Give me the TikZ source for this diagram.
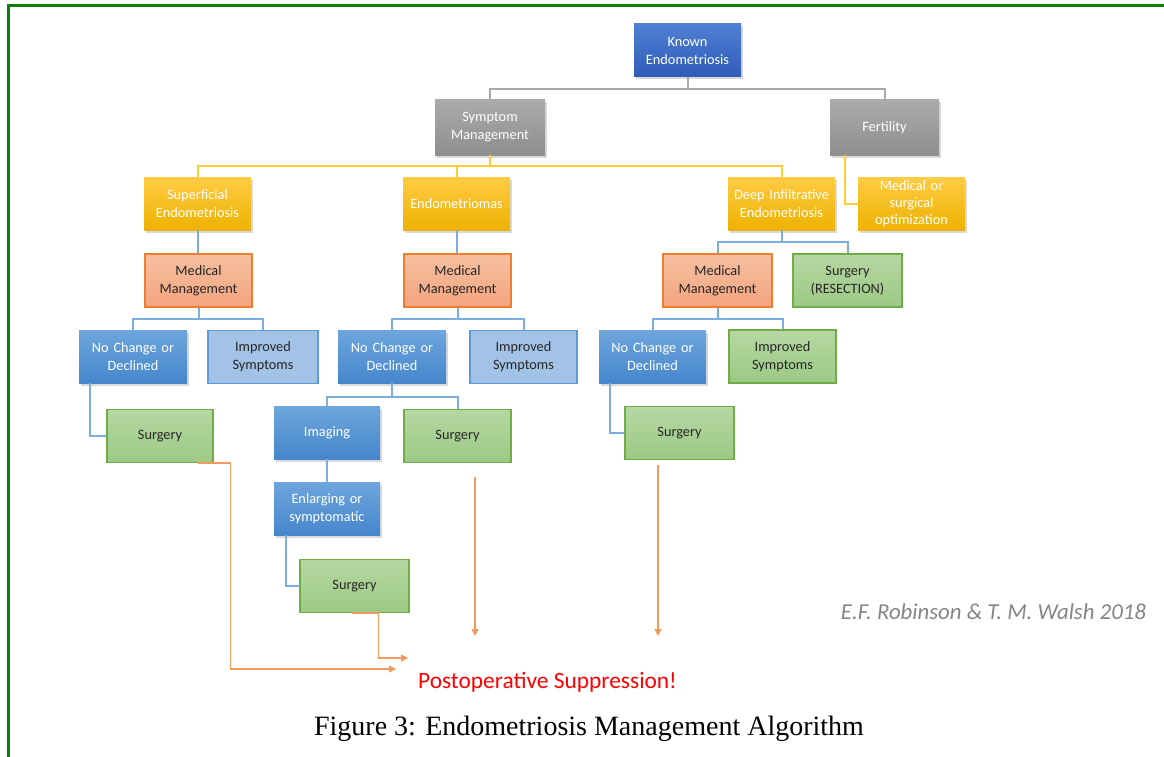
\documentclass[tikz,border=0pt]{standalone}
\usepackage{fontspec}
\setmainfont{Carlito}
\newfontfamily\capfont{Liberation Serif}
\usetikzlibrary{arrows.meta,shadows}
\definecolor{kbT}{HTML}{4F7FD4}
\definecolor{kbB}{HTML}{2F5CB8}
\definecolor{grT}{HTML}{ABABAB}
\definecolor{grB}{HTML}{8E8E8E}
\definecolor{yeT}{HTML}{FFCB45}
\definecolor{yeB}{HTML}{EDB200}
\definecolor{buT}{HTML}{6EA6DD}
\definecolor{buB}{HTML}{4586CB}
\definecolor{mmT}{HTML}{F6BFA0}
\definecolor{mmB}{HTML}{F3A47E}
\definecolor{mmD}{HTML}{ED7D31}
\definecolor{impF}{HTML}{A2C2E6}
\definecolor{impD}{HTML}{5B9BD5}
\definecolor{gnT}{HTML}{B6D7A3}
\definecolor{gnB}{HTML}{9CC985}
\definecolor{gnD}{HTML}{70AD47}
\definecolor{txt}{HTML}{262626}
\definecolor{lnG}{HTML}{A8A8A8}
\definecolor{lnY}{HTML}{FFCC33}
\definecolor{lnB}{HTML}{7AAEE0}
\definecolor{lnO}{HTML}{F29B5C}
\definecolor{frame}{HTML}{0A800A}
\definecolor{credit}{HTML}{858585}
\begin{document}
\begin{tikzpicture}[x=1pt,y=-1pt,
  box/.style={rectangle, minimum width=107pt, minimum height=53pt, text width=105pt,
    align=center, inner sep=0pt, font=\fontsize{14.3}{18}\selectfont},
  dark/.style={box, text=white, drop shadow={opacity=0.3, shadow xshift=1.5pt, shadow yshift=-2.5pt}},
  known/.style={dark, top color=kbT, bottom color=kbB},
  grey/.style={dark, top color=grT, bottom color=grB},
  yel/.style={dark, top color=yeT, bottom color=yeB},
  blu/.style={dark, top color=buT, bottom color=buB},
  mm/.style={box, draw=mmD, line width=1.4pt, top color=mmT, bottom color=mmB, text=txt},
  imp/.style={box, draw=impD, line width=1.2pt, fill=impF, text=txt},
  grn/.style={box, draw=gnD, line width=1.2pt, top color=gnT, bottom color=gnB, text=txt},
  gl/.style={draw=lnG, line width=2pt},
  yl/.style={draw=lnY, line width=2pt},
  bl/.style={draw=lnB, line width=2pt},
  ol/.style={draw=lnO, line width=1.6pt, -{Triangle[length=7pt,width=7pt]}}
]
\useasboundingbox (0,0) rectangle (1164,757);
\draw[frame, line width=3pt] (1164,6) -- (8,6) -- (8,757);

% nodes
\node[known] (known) at (687.5,50.5) {Known\\Endometriosis};
\node[grey, minimum width=110pt, minimum height=55pt] (symp) at (490,127.5) {Symptom\\Management};
\node[grey, minimum width=109pt, minimum height=55pt] (fert) at (884.5,127.5) {Fertility};
\node[yel] (sup) at (197.5,203.5) {Superficial\\Endometriosis};
\node[yel] (endo) at (456.5,203.5) {Endometriomas};
\node[yel] (deep) at (781.5,203.5) {Deep Infiltrative\\Endometriosis};
\node[yel, font=\fontsize{14.3}{17}\selectfont] (optim) at (911.5,203.5) {Medical or\\surgical\\optimization};
\node[mm] (mm1) at (198.5,280.5) {Medical\\Management};
\node[mm] (mm2) at (457.5,280.5) {Medical\\Management};
\node[mm, minimum width=109pt] (mm3) at (717.5,280.5) {Medical\\Management};
\node[grn, minimum width=109pt] (sres) at (847.5,280.5) {Surgery\\(RESECTION)};
\node[blu, minimum width=108pt] (nc1) at (133,356.5) {No Change or\\Declined};
\node[imp, minimum width=110pt] (im1) at (263,357) {Improved\\Symptoms};
\node[blu, minimum width=108pt] (nc2) at (392,356.5) {No Change or\\Declined};
\node[imp] (im2) at (523.5,357) {Improved\\Symptoms};
\node[blu] (nc3) at (652.5,356.5) {No Change or\\Declined};
\node[grn] (im3) at (782.5,356.5) {Improved\\Symptoms};
\node[grn, minimum width=106pt] (s1) at (160,436) {Surgery};
\node[blu, minimum width=106pt] (img) at (327,432.5) {Imaging};
\node[grn] (s2) at (457.5,436) {Surgery};
\node[grn, minimum width=109pt] (s3) at (679.5,433) {Surgery};
\node[blu, minimum width=106pt] (enl) at (327,508.5) {Enlarging or\\symptomatic};
\node[grn, minimum width=109pt] (s4) at (354.5,586) {Surgery};

\node[text=red, font=\fontsize{23.4}{26}\selectfont, inner sep=0pt] (post) at (547.5,682) {Postoperative Suppression!};
\node[text=credit, font=\fontsize{22.8}{26}\selectfont\itshape, inner sep=0pt] (cred) at (993.5,612) {E.F. Robinson \& T. M. Walsh 2018};
\node[font=\capfont\fontsize{28}{32}\selectfont, inner sep=0pt] (cap) at (589,729) {Figure 3: Endometriosis Management Algorithm};

% connectors
\draw[gl] (known.south) -- ++(0,12) -| (symp.north);
\draw[gl] (known.south) -- ++(0,12) -| (fert.north);
\draw[yl] (symp.south) -- ++(0,11) -| (sup.north);
\draw[yl] (symp.south) -- ++(0,11) -| (endo.north);
\draw[yl] (symp.south) -- ++(0,11) -| (deep.north);
\draw[yl] ([xshift=15pt]fert.south west) |- (optim.west);
\draw[bl] (sup.south) -- (sup.south |- mm1.north);
\draw[bl] (endo.south) -- (endo.south |- mm2.north);
\draw[bl] (deep.south) -- ++(0,12) -| (mm3.north);
\draw[bl] (deep.south) -- ++(0,12) -| (sres.north);
\draw[bl] (mm1.south) -- ++(0,11) -| (nc1.north);
\draw[bl] (mm1.south) -- ++(0,11) -| (im1.north);
\draw[bl] (mm2.south) -- ++(0,11) -| (nc2.north);
\draw[bl] (mm2.south) -- ++(0,11) -| (im2.north);
\draw[bl] (mm3.south) -- ++(0,11) -| (nc3.north);
\draw[bl] (mm3.south) -- ++(0,11) -| (im3.north);
\draw[bl] ([xshift=11pt]nc1.south west) |- (s1.west);
\draw[bl] ([xshift=11pt]nc3.south west) |- (s3.west);
\draw[bl] (nc2.south) -- ++(0,14) -| (img.north);
\draw[bl] (nc2.south) -- ++(0,14) -| (s2.north);
\draw[bl] (img.south) -- (enl.north);
\draw[bl] ([xshift=12pt]enl.south west) |- (s4.west);

\coordinate (pA) at (396,669);
\coordinate (pB) at (408,658);
\coordinate (a2s) at (475,477);
\coordinate (a2e) at (475,636);
\coordinate (a3s) at (658,465);
\coordinate (a3e) at (658,636);
\draw[ol] ([xshift=-16pt]s1.south east) -- ++(33,0) |- (pA);
\draw[ol] ([xshift=-3pt]s4.south) -- ++(27,0) |- (pB);
\draw[ol] (a2s) -- (a2e);
\draw[ol] (a3s) -- (a3e);
\end{tikzpicture}
\end{document}
